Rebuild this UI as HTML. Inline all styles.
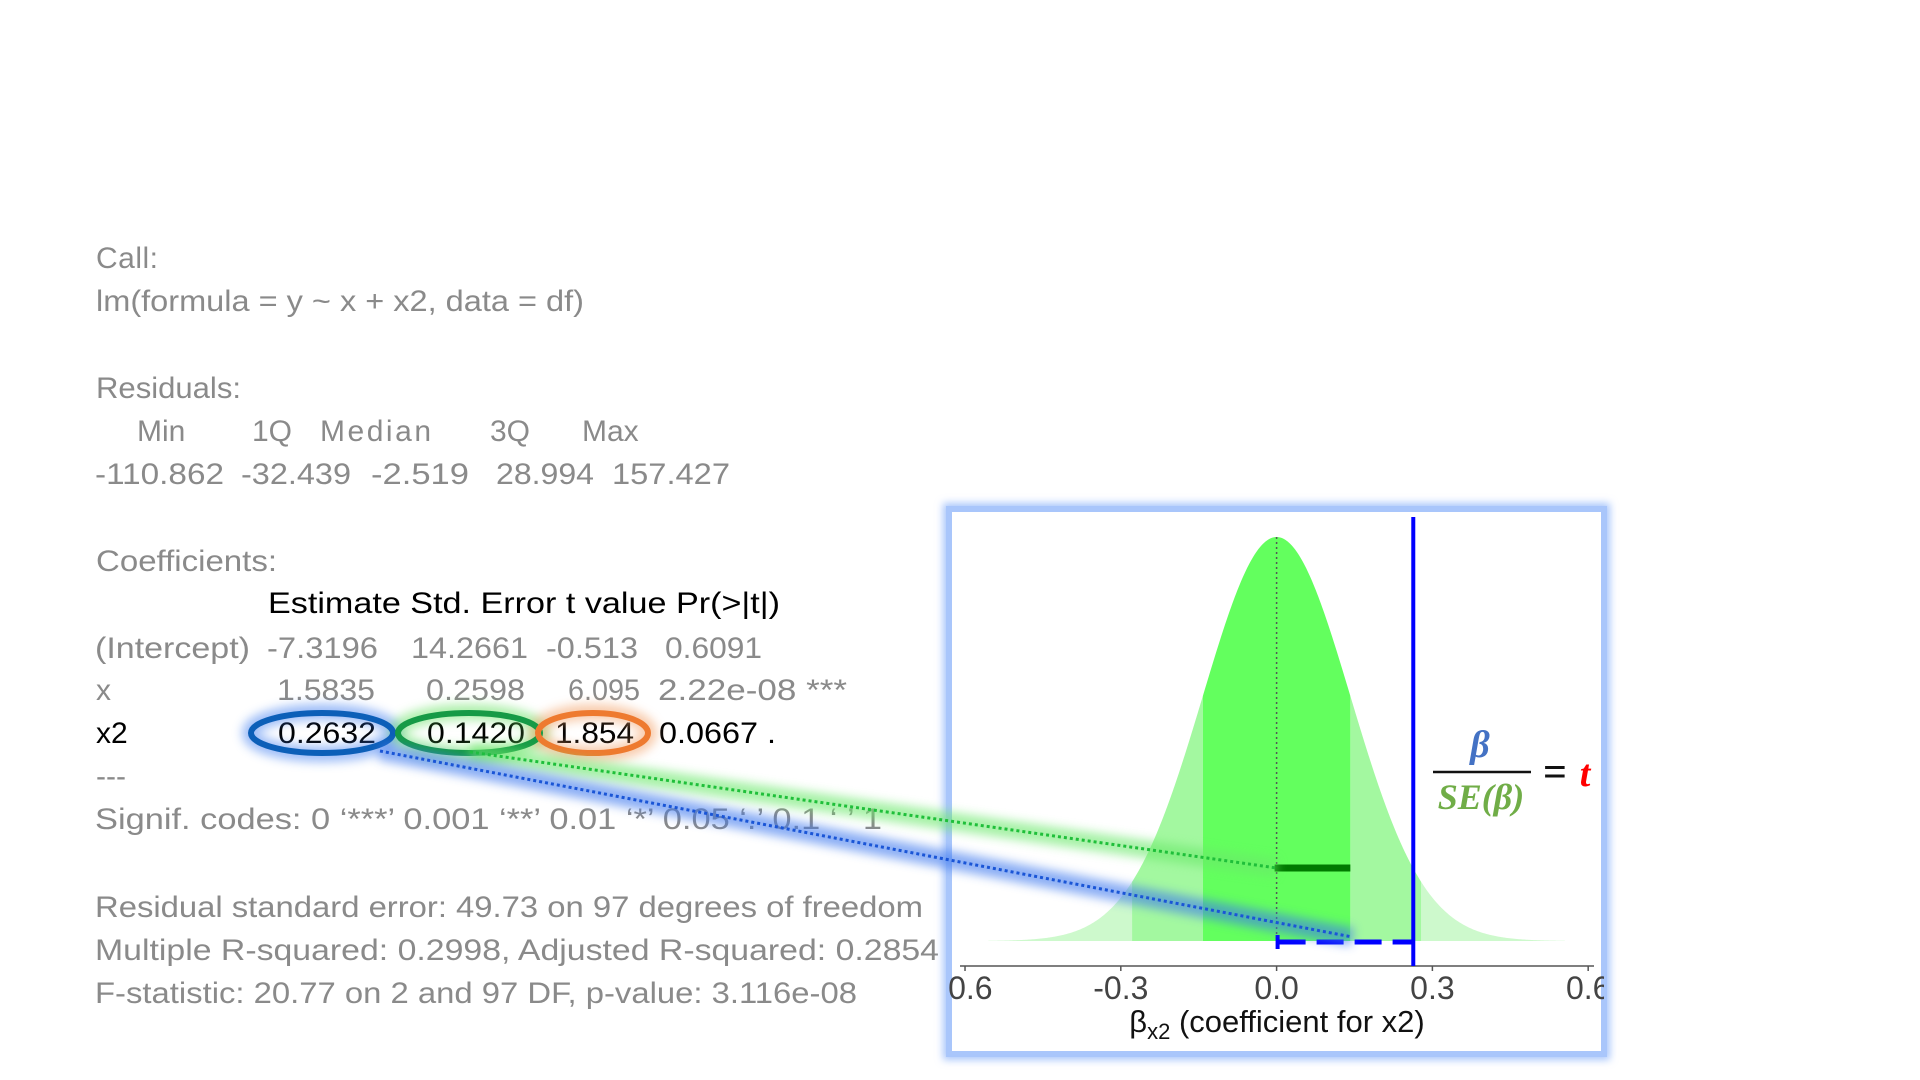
<!DOCTYPE html>
<html><head><meta charset="utf-8"><style>
html,body{margin:0;padding:0;background:#fff;}
svg{display:block;}
.g{fill:#8a8a8a;font-family:"Liberation Sans",sans-serif;font-size:30px;}
.k{fill:#000;font-family:"Liberation Sans",sans-serif;font-size:30px;}
</style></head><body>
<svg id="root" width="1920" height="1080" viewBox="0 0 1920 1080" xmlns="http://www.w3.org/2000/svg">
<defs>
<filter id="blur6" x="-20%" y="-50%" width="140%" height="200%"><feGaussianBlur stdDeviation="5"/></filter>
<filter id="blur4" x="-10%" y="-10%" width="120%" height="120%"><feGaussianBlur stdDeviation="4"/></filter>
<clipPath id="panelClip"><rect x="949" y="509" width="655" height="545"/></clipPath>
</defs>
<g>
<text class="g" x="96" y="268" textLength="62">Call:</text>
<text class="g" x="96" y="311" textLength="488" lengthAdjust="spacingAndGlyphs">lm(formula = y ~ x + x2, data = df)</text>
<text class="g" x="96" y="398" textLength="145" lengthAdjust="spacingAndGlyphs">Residuals:</text>
<text class="g" x="137" y="441">Min</text>
<text class="g" x="252" y="441">1Q</text>
<text class="g" x="320" y="441" textLength="111">Median</text>
<text class="g" x="490" y="441">3Q</text>
<text class="g" x="582" y="441">Max</text>
<text class="g" x="95" y="484" textLength="129" lengthAdjust="spacingAndGlyphs">-110.862</text>
<text class="g" x="241" y="484" textLength="110" lengthAdjust="spacingAndGlyphs">-32.439</text>
<text class="g" x="371" y="484" textLength="98" lengthAdjust="spacingAndGlyphs">-2.519</text>
<text class="g" x="496" y="484" textLength="98" lengthAdjust="spacingAndGlyphs">28.994</text>
<text class="g" x="612" y="484" textLength="118" lengthAdjust="spacingAndGlyphs">157.427</text>
<text class="g" x="96" y="571" textLength="181" lengthAdjust="spacingAndGlyphs">Coefficients:</text>
<text class="k" x="268" y="613" textLength="512" lengthAdjust="spacingAndGlyphs">Estimate Std. Error t value  Pr(&gt;|t|)</text>
<text class="g" x="95" y="658" textLength="155" lengthAdjust="spacingAndGlyphs">(Intercept)</text>
<text class="g" x="267" y="658" textLength="111" lengthAdjust="spacingAndGlyphs">-7.3196</text>
<text class="g" x="411" y="658" textLength="117" lengthAdjust="spacingAndGlyphs">14.2661</text>
<text class="g" x="546" y="658" textLength="92" lengthAdjust="spacingAndGlyphs">-0.513</text>
<text class="g" x="665" y="658" textLength="97" lengthAdjust="spacingAndGlyphs">0.6091</text>
<text class="g" x="96" y="700">x</text>
<text class="g" x="277" y="700" textLength="98" lengthAdjust="spacingAndGlyphs">1.5835</text>
<text class="g" x="426" y="700" textLength="99" lengthAdjust="spacingAndGlyphs">0.2598</text>
<text class="g" x="568" y="700" textLength="72" lengthAdjust="spacingAndGlyphs">6.095</text>
<text class="g" x="658" y="700" textLength="189" lengthAdjust="spacingAndGlyphs">2.22e-08 ***</text>
<text class="k" x="96" y="743">x2</text>
<text class="k" x="278" y="743" textLength="98" lengthAdjust="spacingAndGlyphs">0.2632</text>
<text class="k" x="427" y="743" textLength="98" lengthAdjust="spacingAndGlyphs">0.1420</text>
<text class="k" x="555" y="743" textLength="79" lengthAdjust="spacingAndGlyphs">1.854</text>
<text class="k" x="659" y="743" textLength="117" lengthAdjust="spacingAndGlyphs">0.0667 .</text>
<text class="g" x="96" y="786">---</text>
<text class="g" x="95" y="829" textLength="787" lengthAdjust="spacingAndGlyphs">Signif. codes:  0 ‘***’ 0.001 ‘**’ 0.01 ‘*’ 0.05 ‘.’ 0.1 ‘ ’ 1</text>
<text class="g" x="95" y="917" textLength="828" lengthAdjust="spacingAndGlyphs">Residual standard error: 49.73 on 97 degrees of freedom</text>
<text class="g" x="95" y="960" textLength="844" lengthAdjust="spacingAndGlyphs">Multiple R-squared:  0.2998,  Adjusted R-squared:  0.2854</text>
<text class="g" x="95" y="1003" textLength="762" lengthAdjust="spacingAndGlyphs">F-statistic: 20.77 on 2 and 97 DF,  p-value: 3.116e-08</text>
</g>

<g>
<ellipse cx="322" cy="733" rx="72" ry="21" fill="none" stroke="#3d7cf0" stroke-width="16" opacity="0.5" filter="url(#blur6)"/>
<ellipse cx="469" cy="733" rx="72" ry="21" fill="none" stroke="#5fe05a" stroke-width="16" opacity="0.5" filter="url(#blur6)"/>
<ellipse cx="593" cy="733" rx="56" ry="21" fill="none" stroke="#f3a36a" stroke-width="16" opacity="0.55" filter="url(#blur6)"/>
<ellipse cx="322" cy="733" rx="71" ry="20" fill="none" stroke="#0c5fb8" stroke-width="6"/>
<ellipse cx="469" cy="733" rx="71" ry="20" fill="none" stroke="#169a46" stroke-width="6"/>
<ellipse cx="593" cy="733" rx="55" ry="20" fill="none" stroke="#ee7a2f" stroke-width="6"/>
</g>

<g>
<rect x="949" y="509" width="655" height="545" fill="none" stroke="#a9c6fb" stroke-width="12" filter="url(#blur4)"/>
<rect x="949" y="509" width="655" height="545" fill="#fff" stroke="#a9c6fb" stroke-width="6"/>
<g id="plot" clip-path="url(#panelClip)"></g>
<g id="equation">
<text x="1480" y="757" text-anchor="middle" font-family="Liberation Serif, serif" font-style="italic" font-weight="bold" font-size="38" fill="#4472c4">β</text>
<line x1="1433" y1="772" x2="1531" y2="772" stroke="#111" stroke-width="2.5"/>
<text x="1481" y="809" text-anchor="middle" font-family="Liberation Serif, serif" font-style="italic" font-weight="bold" font-size="36" fill="#70ad47">SE(β)</text>
<text x="1555" y="786" text-anchor="middle" font-family="Liberation Serif, serif" font-weight="bold" font-size="42" fill="#111">=</text>
<text x="1585" y="786" text-anchor="middle" font-family="Liberation Serif, serif" font-style="italic" font-weight="bold" font-size="38" fill="#ff0000">t</text>
</g>
</g>
<g id="connectors"></g>
</svg>
<script>
const estimate = 0.2632;
const stdError = 0.1420;
const critMult = 1.96;
const tickValues = [-0.6, -0.3, 0.0, 0.3, 0.6];
const tickLabels = ["-0.6", "-0.3", "0.0", "0.3", "0.6"];
const curveRange = [-0.555, 0.555];

const NS = "http://www.w3.org/2000/svg";
const X0 = 1276.6, XK = 519.3;
function xs(v){ return X0 + v * XK; }
const BASE = 941, PEAK = 537;
function dens(v){ return Math.exp(-v*v/(2*stdError*stdError)); }
function ys(d){ return BASE - (BASE-PEAK)*d; }
function mk(tag, attrs, parent){
  const e = document.createElementNS(NS, tag);
  for (const k in attrs) e.setAttribute(k, attrs[k]);
  parent.appendChild(e); return e;
}
const plot = document.getElementById('plot');
function band(a, b, color, name){
  let d = "M" + xs(a) + "," + BASE;
  const n = 120;
  for (let i = 0; i <= n; i++){ const v = a + (b-a)*i/n; d += " L" + xs(v).toFixed(2) + "," + ys(dens(v)).toFixed(2); }
  d += " L" + xs(b) + "," + BASE + " Z";
  const p = mk('path', {d: d, fill: color}, plot);
  
  
}
const crit = critMult * stdError;
band(curveRange[0], -crit, '#cdf9cc', 'density-left-tail');
band(crit, curveRange[1], '#cdf9cc', 'density-right-tail');
band(-crit, -stdError, '#a3f8a0', 'density-left-mid');
band(stdError, crit, '#a3f8a0', 'density-right-mid');
band(-stdError, stdError, '#63ff5e', 'density-center-se');

const zl = mk('line', {x1: xs(0), x2: xs(0), y1: ys(1), y2: BASE, stroke: '#555', 'stroke-width': 1.5, 'stroke-dasharray': '2,3'}, plot);



const ax = mk('line', {x1: 960, x2: 1594, y1: 966, y2: 966, stroke: '#555', 'stroke-width': 1.5}, plot);


tickValues.forEach((v, i) => {
  const t = mk('line', {x1: xs(v), x2: xs(v), y1: 966, y2: 971, stroke: '#555', 'stroke-width': 1.5}, plot);
  
  
  const lb = mk('text', {x: xs(v), y: 999, 'text-anchor': 'middle', 'font-family': 'Liberation Sans, sans-serif', 'font-size': 32, fill: '#444'}, plot);
  lb.textContent = tickLabels[i];
  
  
});
const title = mk('text', {x: 1277, y: 1032, 'text-anchor': 'middle', 'font-family': 'Liberation Sans, sans-serif', 'font-size': 31, fill: '#111'}, plot);
title.innerHTML = 'β<tspan font-size="22" dy="7">x2</tspan><tspan dy="-7"> (coefficient for x2)</tspan>';



const seg = mk('line', {x1: xs(0)-2, x2: xs(stdError), y1: 868, y2: 868, stroke: '#007a00', 'stroke-width': 7}, plot);



const dash = mk('line', {x1: xs(0)+2, x2: xs(estimate), y1: 942, y2: 942, stroke: '#0000ff', 'stroke-width': 5, 'stroke-dasharray': '27,11'}, plot);


const dtick = mk('line', {x1: xs(0)+1, x2: xs(0)+1, y1: 935, y2: 949, stroke: '#0000ff', 'stroke-width': 4}, plot);


const vl = mk('line', {x1: xs(estimate), x2: xs(estimate), y1: 517, y2: 966, stroke: '#0000ff', 'stroke-width': 4}, plot);



const con = document.getElementById('connectors');
function connector(x1, y1, x2, y2, glow, col, name){
  mk('line', {x1: x1, y1: y1, x2: x2, y2: y2, stroke: glow, 'stroke-width': 18, opacity: 0.6, filter: 'url(#blur6)'}, con);
  const l = mk('line', {x1: x1, y1: y1, x2: x2, y2: y2, stroke: col, 'stroke-width': 3, 'stroke-dasharray': '3,3'}, con);
  
  
}
connector(470, 752, xs(0), 868, '#6be86a', '#1fbf3a', 'se-connector');
connector(380, 751, xs(stdError)+2, 937, '#3e78ee', '#1a55d6', 'estimate-connector');
</script>
</body></html>
